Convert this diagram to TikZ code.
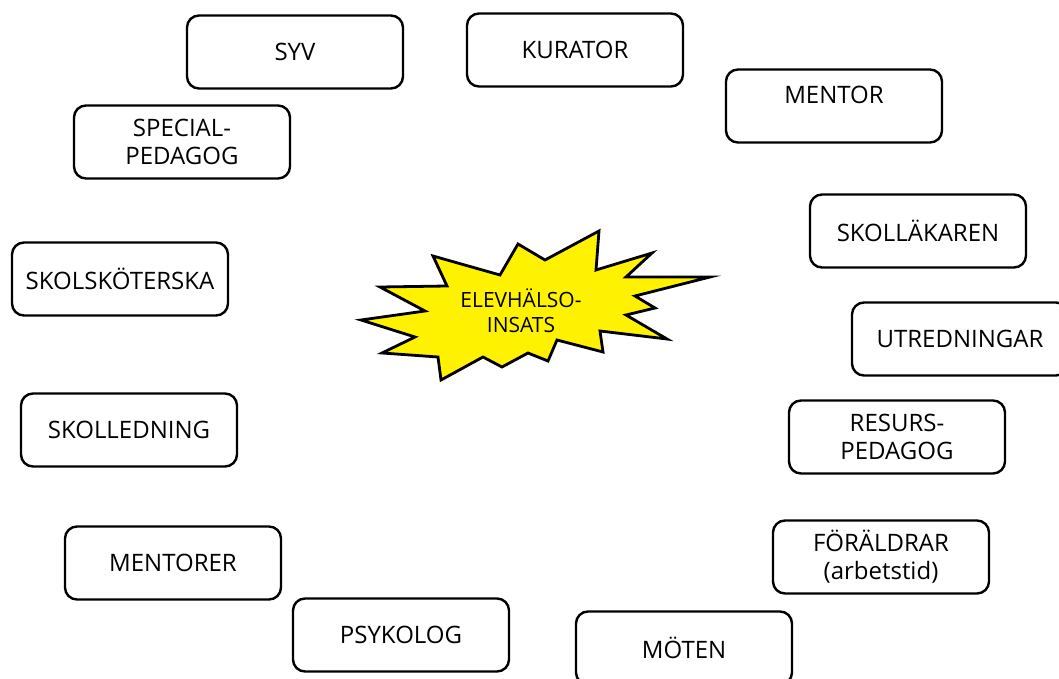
\documentclass[tikz,border=0pt]{standalone}
\usepackage{fontspec}
\setmainfont{Open Sans}
\begin{document}
\begin{tikzpicture}
  [x=1pt, y=-1pt,
   box/.style={draw, line width=2.4pt, rounded corners=12pt, minimum width=216pt,
     minimum height=73pt, inner sep=0pt, align=center, font=\fontsize{24}{28}\selectfont},
   burst/.style={draw, fill=yellow, line width=2.8pt, line join=miter}]
  \useasboundingbox (0,0) rectangle (1059,679);

  % star in the middle
  \path[burst] (361,320) -- (425,311) -- (380,287) -- (447,286) -- (433,256)
    -- (500,275) -- (518,244) -- (545,260) -- (599,231) -- (596,270)
    -- (652,253) -- (626,277) -- (710,277) -- (635,296) -- (655,308)
    -- (626,315) -- (667,339) -- (600,331) -- (603,352) -- (557,340)
    -- (548,361) -- (528,353) -- (502,367) -- (483,357) -- (441,380)
    -- (438,357) -- (382,353) -- (415,337) -- cycle;
  \node[align=center, font=\fontsize{21}{25}\selectfont] (insats) at (521,311) {ELEVH\"ALSO-\\INSATS};

  % left side
  \node[box] (syv) at (295,52) {SYV};
  \node[box] (special) at (182,142) {SPECIAL-\\PEDAGOG};
  \node[box] (skolskoterska) at (120,279) {SKOLSK\"OTERSKA};
  \node[box] (skolledning) at (129,430) {SKOLLEDNING};
  \node[box] (mentorer) at (173,563) {MENTORER};
  \node[box] (psykolog) at (401,635) {PSYKOLOG};

  % right side
  \node[box] (kurator) at (575,50) {KURATOR};
  \node[box, text depth=22pt] (mentor) at (834,106) {MENTOR};
  \node[box] (skollakaren) at (918,231) {SKOLL\"AKAREN};
  \node[box] (utredningar) at (960,339) {UTREDNINGAR};
  \node[box] (resurs) at (897,437) {RESURS-\\PEDAGOG};
  \node[box] (foraldrar) at (881,557) {F\"OR\"ALDRAR\\(arbetstid)};
  \node[box] (moten) at (684,648) {M\"OTEN};
\end{tikzpicture}
\end{document}
